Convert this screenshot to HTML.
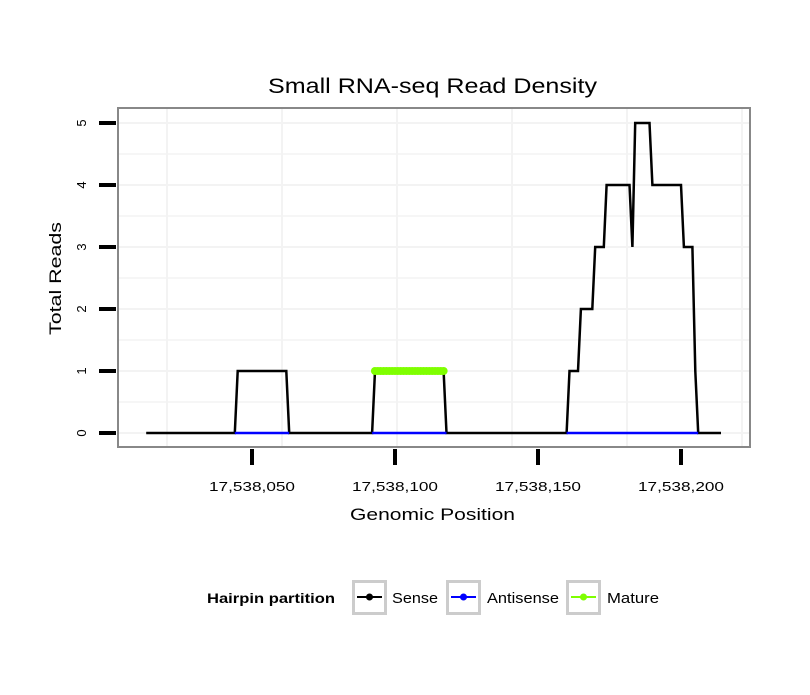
<!DOCTYPE html>
<html><head><meta charset="utf-8"><style>
body{margin:0;background:#fff;}
svg text{font-family:"Liberation Sans",sans-serif;}
</style></head><body>
<svg id="chart" width="810" height="690" xmlns="http://www.w3.org/2000/svg">
<rect width="810" height="690" fill="#fff"/>
<text x="268" y="93" font-size="21" textLength="329" lengthAdjust="spacingAndGlyphs">Small RNA-seq Read Density</text>
<g id="grid"></g>
<g id="series"></g>
<rect x="118" y="108" width="632" height="339" fill="none" stroke="#888" stroke-width="2"/>
<g id="axes"></g>
<text x="350" y="520" font-size="17" textLength="165" lengthAdjust="spacingAndGlyphs">Genomic Position</text>
<text transform="translate(61,335) rotate(-90)" font-size="17" textLength="113" lengthAdjust="spacingAndGlyphs">Total Reads</text>
<g>
<text x="207" y="603" font-size="14" font-weight="bold" textLength="128" lengthAdjust="spacingAndGlyphs">Hairpin partition</text>
<g>
<rect x="353.5" y="581.5" width="32" height="32" fill="#fff" stroke="#ccc" stroke-width="3"/>
<line x1="357" y1="597" x2="382" y2="597" stroke="#000" stroke-width="2"/><circle cx="369.5" cy="597" r="3.5" fill="#000"/>
<text x="392" y="603" font-size="15" textLength="46" lengthAdjust="spacingAndGlyphs">Sense</text></g>
<g>
<rect x="447.5" y="581.5" width="32" height="32" fill="#fff" stroke="#ccc" stroke-width="3"/>
<line x1="451" y1="597" x2="476" y2="597" stroke="#00f" stroke-width="2"/><circle cx="463.5" cy="597" r="3.5" fill="#00f"/>
<text x="487" y="603" font-size="15" textLength="72" lengthAdjust="spacingAndGlyphs">Antisense</text></g>
<g>
<rect x="567.5" y="581.5" width="32" height="32" fill="#fff" stroke="#ccc" stroke-width="3"/>
<line x1="571" y1="597" x2="596" y2="597" stroke="#7fff00" stroke-width="2"/><circle cx="583.5" cy="597" r="3.5" fill="#7fff00"/>
<text x="607" y="603" font-size="15" textLength="52" lengthAdjust="spacingAndGlyphs">Mature</text></g>
</g>
</svg>
<script>
const base = 17538000;
const xTicks = [17538050, 17538100, 17538150, 17538200];
const xTickLabels = ["17,538,050", "17,538,100", "17,538,150", "17,538,200"];
const yTicks = [0, 1, 2, 3, 4, 5];
// sense coverage segments: [startPos, endPos, value] (offset from base)
const senseRuns = [[13,44,0],[45,62,1],[63,92,0],[93,117,1],[118,160,0],[161,164,1],[165,169,2],[170,173,3],[174,182,4],[183,183,3],[184,189,5],[190,200,4],[201,204,3],[205,205,1],[206,214,0]];
const antisenseRanges = [[44,63],[92,118],[160,206]];
const matureRange = [93,117];
const matureValue = 1;

const NS = "http://www.w3.org/2000/svg";
function X(p){ return 252 + (p - 17538050) * 2.86; }
function Y(v){ return 433 - v * 62; }
function mk(tag, attrs, parent){ const e=document.createElementNS(NS,tag); for(const k in attrs) e.setAttribute(k,attrs[k]); parent.appendChild(e); return e; }

const grid=document.getElementById('grid'), series=document.getElementById('series'), axes=document.getElementById('axes');
for(let v=-0.5; v<=5.5; v+=0.5){ const y=Y(v); if(y<109||y>446) continue;
  const l=mk('line',{x1:119,x2:749,y1:y,y2:y,stroke:'#f3f3f3','stroke-width':v%1===0?2:1.5},grid);
    }
for(let i=0;i<6;i++){ const x=167+i*115;
  const l=mk('line',{x1:x,x2:x,y1:109,y2:446,stroke:'#f3f3f3','stroke-width':2},grid);
    }

const pts=[];
senseRuns.forEach(r=>{ for(let p=r[0];p<=r[1];p++) pts.push([base+p,r[2]]); });
const sl=mk('polyline',{points:pts.map(d=>X(d[0]).toFixed(1)+','+Y(d[1]).toFixed(1)).join(' '),fill:'none',stroke:'#000','stroke-width':2.5,'stroke-linejoin':'miter'},series);
 

antisenseRanges.forEach(r=>{
  const l=mk('line',{x1:X(base+r[0]),x2:X(base+r[1]),y1:Y(0),y2:Y(0),stroke:'#00f','stroke-width':2.5},series);
   
});
const ml=mk('line',{x1:X(base+matureRange[0]),x2:X(base+matureRange[1]),y1:Y(matureValue),y2:Y(matureValue),stroke:'#7fff00','stroke-width':3},series);
 
for(let p=matureRange[0];p<=matureRange[1];p++){
  const c=mk('circle',{cx:X(base+p),cy:Y(matureValue),r:4,fill:'#7fff00'},series);
   
}

yTicks.forEach(v=>{
  const t=mk('line',{x1:99,x2:116,y1:Y(v),y2:Y(v),stroke:'#000','stroke-width':4},axes);
   
  const tx=mk('text',{transform:`translate(86,${Y(v)}) rotate(-90)`,'font-size':13,'text-anchor':'middle'},axes);
  tx.textContent=v;
   
});
xTicks.forEach((v,i)=>{
  const t=mk('line',{x1:X(v),x2:X(v),y1:449,y2:465,stroke:'#000','stroke-width':4},axes);
   
  const tx=mk('text',{x:X(v)-43,y:491,'font-size':13,textLength:86,lengthAdjust:'spacingAndGlyphs'},axes);
  tx.textContent=xTickLabels[i];
   
});
</script>
</body></html>
